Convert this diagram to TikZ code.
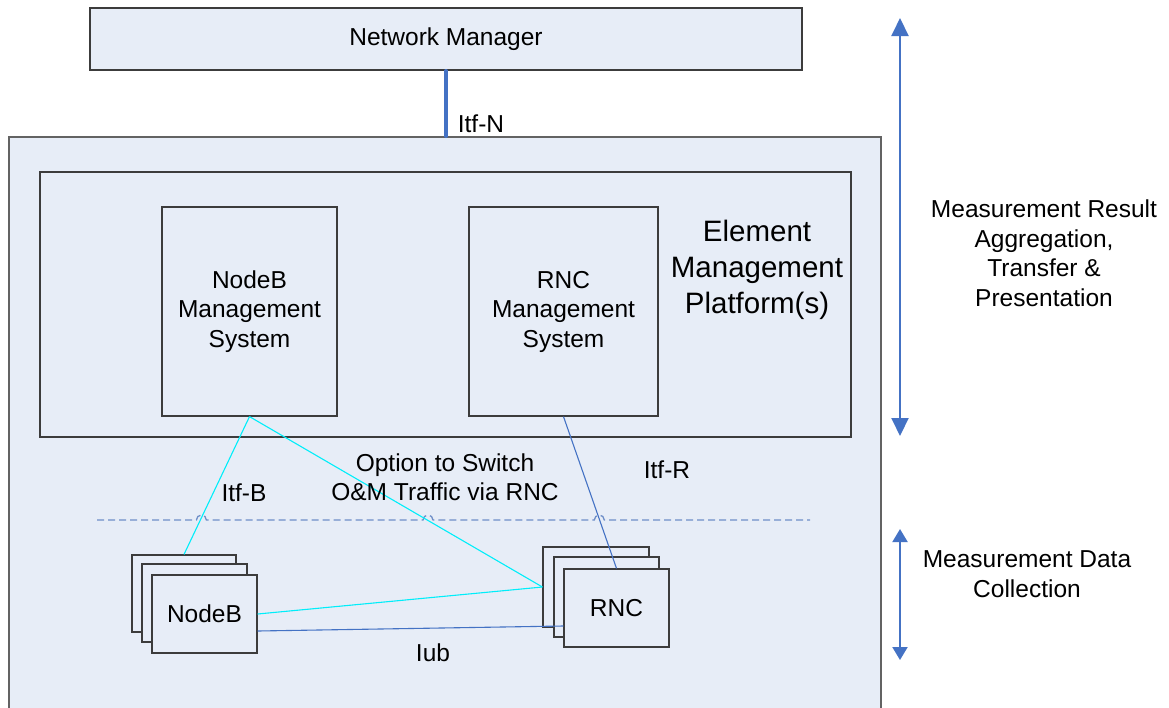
\documentclass[tikz,border=0pt]{standalone}
\usepackage{fontspec}
\setmainfont{Liberation Sans}
\usetikzlibrary{arrows.meta}
\definecolor{panel}{RGB}{231,237,247}
\definecolor{edge}{RGB}{60,60,60}
\definecolor{linkblue}{RGB}{68,114,196}
\definecolor{hopblue}{RGB}{110,142,200}
\definecolor{optcyan}{RGB}{0,238,250}
\begin{document}
\begin{tikzpicture}[x=1pt,y=-1pt,
  box/.style={draw=edge, line width=1.2pt, fill=panel, inner sep=0pt, align=center,
              font=\fontsize{24.5}{29.5}\selectfont},
  lbl/.style={font=\fontsize{24.5}{29.5}\selectfont, align=center, inner sep=0pt},
  biglbl/.style={font=\fontsize{29.5}{36}\selectfont, align=center, inner sep=0pt},
  optlink/.style={draw=optcyan, line width=1.1pt},
  bluelink/.style={draw=linkblue, line width=1.1pt},
  hopline/.style={draw=hopblue, line width=1.3pt, dash pattern=on 7pt off 4pt},
  spanarrow/.style={draw=linkblue, line width=2pt,
     {Triangle[length=18pt,width=17pt]}-{Triangle[length=18pt,width=17pt]}},
  shortarrow/.style={draw=linkblue, line width=2pt,
     {Triangle[length=13pt,width=15pt]}-{Triangle[length=13pt,width=15pt]}}]
\clip (0,0) rectangle (1169,707);
\fill[white] (0,0) rectangle (1169,707);

% top level
\node[box, minimum width=712pt, minimum height=62pt] (nm) at (446,39) {Network Manager};

% platform area and element management frame
\node[box, draw=edge!80, minimum width=872pt, minimum height=590pt] (outer) at (445,432) {};
\node[box, minimum width=811pt, minimum height=265pt] (emp) at (445.5,304.5) {};
\node[biglbl] (emptext) at (757,270) {Element\\Management\\Platform(s)};

\node[box, minimum width=175pt, minimum height=209pt] (nbms) at (249.5,311.5)
  {NodeB\\Management\\System};
\node[box, minimum width=189pt, minimum height=209pt] (rncms) at (563.5,311.5)
  {RNC\\Management\\System};

% Itf-N
\draw[linkblue, line width=3.2pt, line cap=round] (nm.south) -- (nm.south |- outer.north);
\node[lbl] (itfn) at (481,124) {Itf-N};

% NodeB stack
\node[box, minimum width=104pt, minimum height=77pt] (nbA) at (184,593.5) {};
\node[box, minimum width=105pt, minimum height=78pt] (nbB) at (194.5,603) {};
\node[box, minimum width=105pt, minimum height=78pt] (nbC) at (204.5,614) {NodeB};

% RNC stack
\node[box, minimum width=106pt, minimum height=80pt] (rncA) at (596,587) {};
\node[box, minimum width=105pt, minimum height=80pt] (rncB) at (606.5,597) {};
\node[box, minimum width=105pt, minimum height=78pt] (rncC) at (616.5,608) {RNC};

% separation between management and network layers, with hops
\draw[hopline] (97,520) -- (196.4,520) arc[start angle=180,end angle=0,radius=5pt]
  -- (423,520) arc[start angle=180,end angle=0,radius=5pt]
  -- (594.3,520) arc[start angle=180,end angle=0,radius=5pt] -- (810,520);

% interfaces
\draw[optlink] (nbms.south) -- (nbA.north);
\draw[optlink] (nbms.south) -- (rncA.west);
\draw[optlink] (nbC.east) -- (rncA.west);
\draw[bluelink] (rncms.south) -- (rncC.north);
\draw[bluelink] ([yshift=-17pt]nbC.east) -- ([yshift=-18pt]rncC.west);

\node[lbl] (itfb) at (244,493) {Itf-B};
\node[lbl] (opt) at (445,477) {Option to Switch\\O\&M Traffic via RNC};
\node[lbl] (itfr) at (667,470) {Itf-R};
\node[lbl] (iub) at (433,653) {Iub};

% scope arrows
\coordinate (a1t) at (900,18);
\coordinate (a1b) at (900,436);
\coordinate (a2t) at (900,529);
\coordinate (a2b) at (900,660);
\draw[spanarrow] (a1t) -- (a1b);
\draw[shortarrow] (a2t) -- (a2b);
\node[lbl] (res) at (1044,253) {Measurement Result\\Aggregation,\\Transfer \&\\Presentation};
\node[lbl] (coll) at (1027,574) {Measurement Data\\Collection};
\end{tikzpicture}
\end{document}
